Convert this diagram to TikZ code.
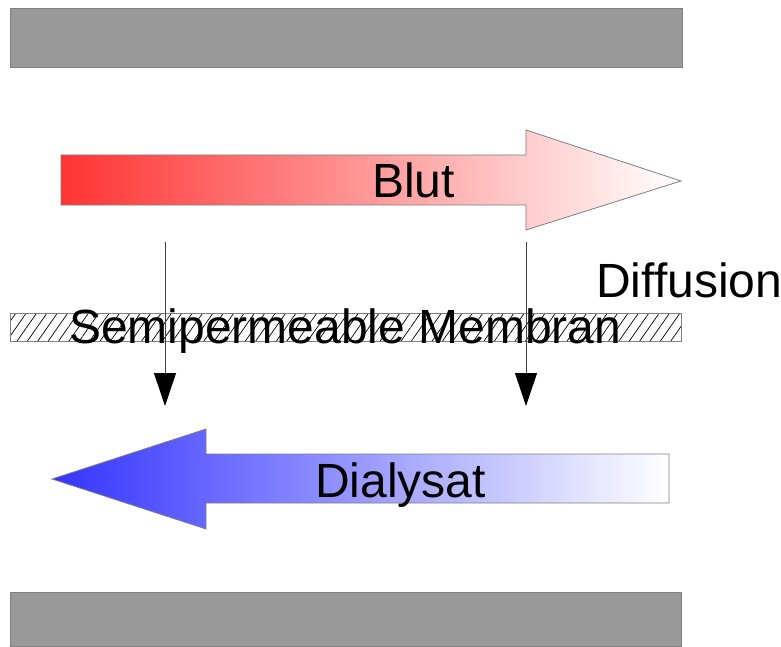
\documentclass[tikz,border=0pt]{standalone}
\usepackage{fontspec}
\setmainfont{Liberation Sans}
\usetikzlibrary{arrows.meta,patterns.meta}
\definecolor{barfill}{HTML}{999999}
\definecolor{barline}{HTML}{808080}
\definecolor{redstart}{HTML}{FF3333}
\definecolor{bluestart}{HTML}{3333FF}
\tikzset{
  bar/.style={fill=barfill, draw=barline, line width=0.8pt},
  flowarrow/.style={draw=barline, line width=0.8pt},
  label/.style={anchor=base west, inner sep=0pt, font=\fontsize{48}{52}\selectfont},
  diff/.style={draw=black!75, line width=0.9pt, -{Triangle[width=22pt,length=33pt,color=black]}}
}
\begin{document}
\begin{tikzpicture}[x=1pt,y=-1pt]
\useasboundingbox (0,0) rectangle (781,647);
% bars
\path[bar] (10,8) rectangle (682,67);
\path[bar] (10,592) rectangle (681,646);
% red arrow
\path[flowarrow, shading=axis, left color=redstart, right color=white]
  (61,155) -- (526,155) -- (526,130) -- (681,181) -- (526,230) -- (526,205) -- (61,205) -- cycle;
% blue arrow
\path[flowarrow, shading=axis, left color=bluestart, right color=white]
  (52,479) -- (206,429) -- (206,454) -- (669,454) -- (669,503) -- (206,503) -- (206,529) -- cycle;
% membrane
\path[draw=barline, line width=0.8pt, pattern={Lines[angle=55,distance=8.5pt,line width=0.7pt]}] (10,313) rectangle (681,341);
% labels
\node[label] (blut) at (372,197) {Blut};
\node[label] (dialysat) at (315,497) {Dialysat};
\node[label] (diffusion) at (596,297) {Diffusion};
\node[label] (membran) at (69,343) {Semipermeable Membran};
% diffusion arrows
\coordinate (a1s) at (165,242);
\coordinate (a1e) at (165,406);
\coordinate (a2s) at (526,242);
\coordinate (a2e) at (526,406);
\draw[diff] (a1s) -- (a1e);
\draw[diff] (a2s) -- (a2e);
\end{tikzpicture}
\end{document}
